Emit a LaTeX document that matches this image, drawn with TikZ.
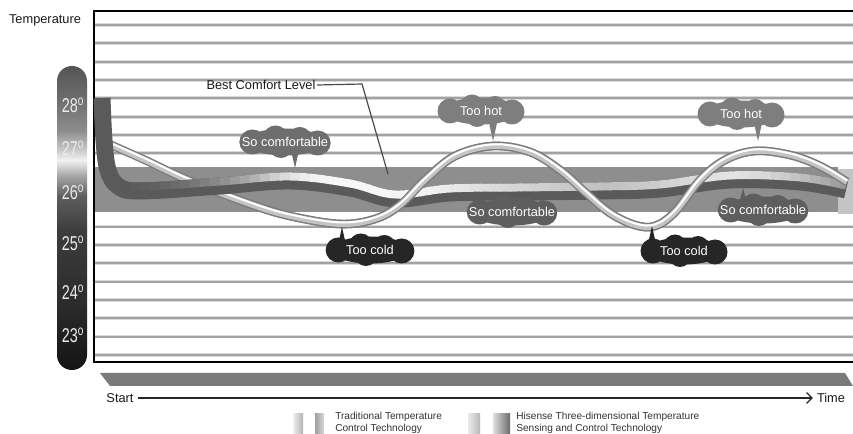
\documentclass[tikz,border=0pt]{standalone}
\usepackage{fontspec}
\usepackage{graphicx}
\setmainfont{Liberation Sans}
\usetikzlibrary{arrows.meta,calc}

\definecolor{gridgray}{HTML}{A2A2A2}
\definecolor{gridlight}{HTML}{DADADA}
\definecolor{bandgray}{HTML}{8E8E8E}
\definecolor{bandlight}{HTML}{C4C4C4}
\definecolor{hidark}{HTML}{5A5A5A}
\definecolor{tradedge}{HTML}{7C7C7C}
\definecolor{tradbody}{HTML}{C4C4C4}
\definecolor{cloudA}{HTML}{6E6E6E}
\definecolor{cloudHot}{HTML}{7E7E7E}
\definecolor{cloudCold}{HTML}{262626}
\definecolor{cloudMid}{HTML}{5E5E5E}
\definecolor{barfill}{HTML}{7A7A7A}
\definecolor{leadgray}{HTML}{4A4A4A}
\definecolor{th0}{HTML}{141414}
\definecolor{th1}{HTML}{2C2C2C}
\definecolor{th2}{HTML}{3C3C3C}
\definecolor{th3}{HTML}{5E5E5E}
\definecolor{th4}{HTML}{A8A8A8}
\definecolor{th5}{HTML}{F2F2F2}
\definecolor{th6}{HTML}{C4C4C4}
\definecolor{th7}{HTML}{8C8C8C}
\definecolor{th8}{HTML}{6A6A6A}
\definecolor{th9}{HTML}{555555}

\pgfdeclareverticalshading{thermo}{100bp}{color(0bp)=(th0); color(25bp)=(th0); color(36.2bp)=(th1); color(47.8bp)=(th2); color(53.6bp)=(th3); color(57bp)=(th4); color(59.5bp)=(th5); color(61.5bp)=(th6); color(64.4bp)=(th7); color(70.2bp)=(th8); color(75bp)=(th9); color(100bp)=(th9)}

\newcommand{\HiRibbon}[1]{\draw[#1] plot[smooth, tension=0.6] coordinates {(102,98) (104,140) (108,170) (118,186) (140,191) (220,186) (290,181) (350,188) (395,199) (450,193) (520,192) (600,191) (660,189) (730,180) (800,182) (846,190)};}
\newcommand{\TradRibbon}[1]{\draw[#1] plot[smooth, tension=0.6] coordinates {(100,140) (145,160) (190,181) (250,204) (290,216) (340,224) (375,219) (400,205) (425,180) (455,156) (493,146) (530,152) (560,170) (585,192) (610,213) (635,225) (655,226) (675,212) (700,180) (725,160) (755,151) (790,155) (820,166) (847,182)};}
% cloud blob: #1 colour, #2 centre, #3 horizontal scale
\newcommand{\CloudBlob}[3]{%
  \begin{scope}[shift={#2}, xscale=#3]
    \fill[#1] (0,0) ellipse [x radius=38, y radius=13.5];
    \fill[#1] (-31,0) circle [radius=12.5];
    \fill[#1] (31,1) circle [radius=12.5];
    \fill[#1] (-9,-5) circle [radius=11.5];
    \fill[#1] (14,-4) circle [radius=11];
    \fill[#1] (-4,5) circle [radius=11];
  \end{scope}}

\tikzset{
  gridline/.style={draw=gridgray, line width=1.4pt},
  gridhalo/.style={draw=gridlight, line width=2.8pt},
  bubbletext/.style={text=white, inner sep=0pt, font=\fontsize{9.6}{11}\selectfont},
  lbl/.style={text=black!90, inner sep=1pt, font=\fontsize{9.6}{11}\selectfont},
  thlabel/.style={text=white!92!black, inner sep=0pt, font=\fontsize{15}{16}\selectfont},
  legendtxt/.style={text=black!80, inner sep=0pt, align=left, font=\fontsize{7.6}{8.6}\selectfont},
  leader/.style={draw=leadgray, line width=0.9pt},
  axisarrow/.style={draw=black!85, line width=0.9pt, -{Straight Barb[length=4pt,width=8pt]}},
}

\begin{document}
\begin{tikzpicture}[x=0.75pt, y=-0.75pt]
\useasboundingbox (0,0) rectangle (853,434);
\fill[white] (0,0) rectangle (853,434);

% grid stripes
\foreach \k in {0,...,18}{
  \draw[gridhalo] (95,{25+18.33*\k}) -- (853,{25+18.33*\k});
  \draw[gridline] (95,{25+18.33*\k}) -- (853,{25+18.33*\k});
}

% comfort band
\fill[bandlight] (838,169) rectangle (853,214);
\fill[bandgray] (94,167) rectangle (838,212);

% frame
\draw[black, line width=1.1pt] (853,11) -- (94,11) -- (94,362) -- (853,362);

% traditional curve (full, below)
\TradRibbon{draw=tradedge, line width=6.4pt}
\TradRibbon{draw=tradbody, line width=4.4pt}
\TradRibbon{draw=white, line width=1.5pt, yshift=1.2pt}

% Hisense ribbon
\HiRibbon{draw=hidark, line width=12.75pt}
\foreach \xa/\g in {120/35,130/36,140/37,150/38,160/40,170/42,180/44,190/47,200/50,210/53,220/57,230/61,240/65,250/70,260/76,270/81,280/86,290/90,300/93,310/95,320/96,330/97,340/97,350/97,360/97,370/97,380/97,390/96,400/96,410/95,420/95,430/94,440/93,450/91,460/90,470/88,480/87,490/86,500/85,510/84,520/83,530/82,540/81,550/80,560/79,570/78,580/77,590/76,600/76,610/76,620/77,630/78,640/79,650/80,660/82,670/83,680/85,690/86,700/88,710/88,720/89,730/89,740/88,750/86,760/85,770/82,780/80,790/77,800/74,810/70,820/67,830/63,840/60}{
  \begin{scope}
    \clip (\xa,0) rectangle ({\xa+11},434);
    \HiRibbon{draw=white!\g!black, line width=6pt, yshift=3.4pt}
  \end{scope}
}

% traditional curve on top after x=235
\begin{scope}
  \clip (235,0) rectangle (853,434);
  \TradRibbon{draw=tradedge, line width=6.4pt}
  \TradRibbon{draw=tradbody, line width=4.4pt}
  \TradRibbon{draw=white, line width=1.5pt, yshift=1.2pt}
\end{scope}

% bubble tails
\coordinate (tipA) at (295,168);
\coordinate (tipB) at (493,141);
\coordinate (tipC) at (758,141);
\coordinate (tipD) at (342,227);
\coordinate (tipE) at (652,226);
\coordinate (tipF) at (542,195);
\coordinate (tipG) at (743,188);
\fill[cloudA] ($(tipA)+(-4,-18)$) -- (tipA) -- ($(tipA)+(4,-18)$) -- cycle;
\fill[cloudHot] ($(tipB)+(-4,-18)$) -- (tipB) -- ($(tipB)+(4,-18)$) -- cycle;
\fill[cloudHot] ($(tipC)+(-4,-18)$) -- (tipC) -- ($(tipC)+(4,-18)$) -- cycle;
\fill[cloudCold] ($(tipD)+(-4,18)$) -- (tipD) -- ($(tipD)+(4,18)$) -- cycle;
\fill[cloudCold] ($(tipE)+(-4,18)$) -- (tipE) -- ($(tipE)+(4,18)$) -- cycle;
\fill[cloudMid] ($(tipF)+(-4,16)$) -- (tipF) -- ($(tipF)+(4,16)$) -- cycle;
\fill[cloudMid] ($(tipG)+(-4,16)$) -- (tipG) -- ($(tipG)+(4,16)$) -- cycle;

% bubbles
\coordinate (cA) at (285,142);
\coordinate (cB) at (481,111);
\coordinate (cC) at (741,114);
\coordinate (cD) at (370,250);
\coordinate (cE) at (684,251);
\coordinate (cF) at (512,212);
\coordinate (cG) at (763,210);
\CloudBlob{cloudA}{(cA)}{1.05}
\CloudBlob{cloudHot}{(cB)}{1.0}
\CloudBlob{cloudHot}{(cC)}{1.0}
\CloudBlob{cloudCold}{(cD)}{1.02}
\CloudBlob{cloudCold}{(cE)}{1.0}
\CloudBlob{cloudMid}{(cF)}{1.04}
\CloudBlob{cloudMid}{(cG)}{1.04}
\node[bubbletext] (tA) at (cA) {So comfortable};
\node[bubbletext] (tB) at (cB) {Too hot};
\node[bubbletext] (tC) at (cC) {Too hot};
\node[bubbletext] (tD) at (cD) {Too cold};
\node[bubbletext] (tE) at (cE) {Too cold};
\node[bubbletext] (tF) at (cF) {So comfortable};
\node[bubbletext] (tG) at (cG) {So comfortable};

% best comfort level label
\node[lbl] (bcl) at (261,85) {Best Comfort Level};
\coordinate (bclbend) at (362,84);
\coordinate (bclend) at (388,174);
\draw[leader] (bcl.east) -- (bclbend) -- (bclend);

% thermometer
\shade[shading=thermo, rounded corners=11.2pt] (57,66) rectangle (87,370);
\node[thlabel] (t28) at (73,105) {\scalebox{0.72}[1]{28\textsuperscript{o}}};
\node[thlabel] (t27) at (73,148) {\scalebox{0.72}[1]{27\textsuperscript{o}}};
\node[thlabel] (t26) at (73,192) {\scalebox{0.72}[1]{26\textsuperscript{o}}};
\node[thlabel] (t25) at (73,243) {\scalebox{0.72}[1]{25\textsuperscript{o}}};
\node[thlabel] (t24) at (73,292) {\scalebox{0.72}[1]{24\textsuperscript{o}}};
\node[thlabel] (t23) at (73,335) {\scalebox{0.72}[1]{23\textsuperscript{o}}};

% temperature axis title
\node[lbl] (templbl) at (45,20) {Temperature};

% time bar and axis
\fill[barfill] (100,373) -- (845,373) -- (853,386) -- (110,386) -- cycle;
\node[lbl, inner sep=3pt] (start) at (120,398) {Start};
\node[lbl, inner sep=3pt] (time) at (831,398) {Time};
\draw[axisarrow] (start.east) -- (time.west);

% legend
\shade[left color=white!94!black, right color=white!70!black] (293,414) rectangle (303,434);
\shade[left color=white!62!black, right color=white!85!black] (315,414) rectangle (324,434);
\node[legendtxt, anchor=north west] (leg1) at (335,412) {Traditional Temperature\\Control Technology};
\shade[left color=white!92!black, right color=white!72!black] (468,414) rectangle (480,434);
\shade[left color=white!88!black, right color=white!42!black] (493,414) rectangle (510,434);
\node[legendtxt, anchor=north west] (leg2) at (516,412) {Hisense Three-dimensional Temperature\\Sensing and Control Technology};
\end{tikzpicture}
\end{document}
